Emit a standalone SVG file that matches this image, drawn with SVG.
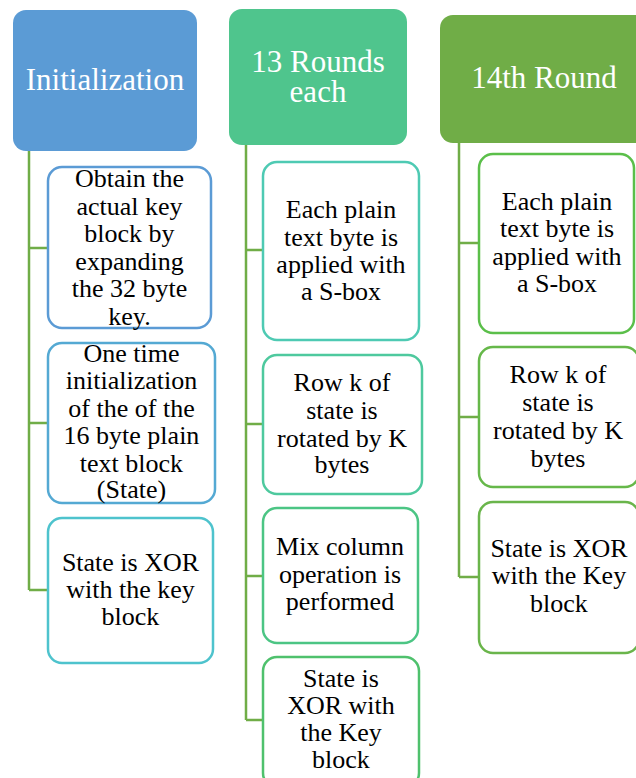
<svg xmlns="http://www.w3.org/2000/svg" width="636" height="778" viewBox="0 0 636 778">
<style>
.hd{font-family:'Liberation Serif','Times New Roman',serif;font-size:31px;fill:#ffffff;text-anchor:middle}
.tx{font-family:'Liberation Serif','Times New Roman',serif;font-size:26px;fill:#000000;text-anchor:middle}
.bx{fill:#ffffff;stroke-width:2.5}
.ln{fill:none;stroke:#70ad47;stroke-width:2.5}
</style>
<rect width="636" height="778" fill="#ffffff"/>
<g id="connectors">
<path class="ln" d="M29,151 V590 M29,248 H48 M29,423 H48 M29,590 H48"/>
<path class="ln" d="M246,145 V720 M246,250 H263 M246,424 H263 M246,576 H263 M246,720 H263"/>
<path class="ln" d="M459,143 V577 M459,243 H479 M459,417 H479 M459,577 H479"/>
</g>
<g id="h1"><rect x="13" y="10" width="184" height="141" rx="13" fill="#5b9bd5"/><text class="hd" x="105" y="90">Initialization</text></g>
<g id="h2"><rect x="229" y="9" width="178" height="136" rx="13" fill="#4fc58d"/><text class="hd"><tspan x="318" y="72">13 Rounds</tspan><tspan x="318" y="102">each</tspan></text></g>
<g id="h3"><rect x="440" y="15" width="210" height="128" rx="13" fill="#70ad47"/><text class="hd" x="544" y="88">14th Round</text></g>
<g id="c1b1"><rect class="bx" x="48" y="167" width="163" height="161" rx="14" stroke="#5b9bd5"/><text class="tx"><tspan x="129.5" y="187">Obtain the</tspan><tspan x="129.5" y="214.6">actual key</tspan><tspan x="129.5" y="242.2">block by</tspan><tspan x="129.5" y="269.8">expanding</tspan><tspan x="129.5" y="297.4">the 32 byte</tspan><tspan x="129.5" y="325">key.</tspan></text></g>
<g id="c1b2"><rect class="bx" x="48" y="343" width="167" height="160" rx="14" stroke="#54a9d3"/><text class="tx"><tspan x="131.5" y="362">One time</tspan><tspan x="131.5" y="389">initialization</tspan><tspan x="131.5" y="417">of the of the</tspan><tspan x="131.5" y="444">16 byte plain</tspan><tspan x="131.5" y="472">text block</tspan><tspan x="131.5" y="498">(State)</tspan></text></g>
<g id="c1b3"><rect class="bx" x="48" y="518" width="165" height="145" rx="14" stroke="#4ec3cd"/><text class="tx"><tspan x="130.5" y="571">State is XOR</tspan><tspan x="130.5" y="598">with the key</tspan><tspan x="130.5" y="625">block</tspan></text></g>
<g id="c2b1"><rect class="bx" x="263" y="162" width="156" height="178" rx="14" stroke="#4ecab3"/><text class="tx"><tspan x="341" y="218">Each plain</tspan><tspan x="341" y="246">text byte is</tspan><tspan x="341" y="273">applied with</tspan><tspan x="341" y="300">a S-box</tspan></text></g>
<g id="c2b2"><rect class="bx" x="263" y="355" width="159" height="139" rx="14" stroke="#4ec99e"/><text class="tx"><tspan x="342" y="391">Row k of</tspan><tspan x="342" y="419">state is</tspan><tspan x="342" y="447">rotated by K</tspan><tspan x="342" y="473">bytes</tspan></text></g>
<g id="c2b3"><rect class="bx" x="263" y="508" width="155" height="135" rx="14" stroke="#4cc584"/><text class="tx"><tspan x="340" y="555">Mix column</tspan><tspan x="340" y="583">operation is</tspan><tspan x="340" y="610">performed</tspan></text></g>
<g id="c2b4"><rect class="bx" x="263" y="657" width="156" height="130" rx="14" stroke="#4fc16d"/><text class="tx"><tspan x="341" y="687">State is</tspan><tspan x="341" y="714">XOR with</tspan><tspan x="341" y="741">the Key</tspan><tspan x="341" y="768">block</tspan></text></g>
<g id="c3b1"><rect class="bx" x="479" y="154" width="155" height="179" rx="14" stroke="#5bbf4a"/><text class="tx"><tspan x="557" y="210">Each plain</tspan><tspan x="557" y="237">text byte is</tspan><tspan x="557" y="265">applied with</tspan><tspan x="557" y="292">a S-box</tspan></text></g>
<g id="c3b2"><rect class="bx" x="479" y="347" width="160" height="140" rx="14" stroke="#66b84a"/><text class="tx"><tspan x="558" y="383">Row k of</tspan><tspan x="558" y="411">state is</tspan><tspan x="558" y="439">rotated by K</tspan><tspan x="558" y="467">bytes</tspan></text></g>
<g id="c3b3"><rect class="bx" x="479" y="502" width="160" height="151" rx="14" stroke="#6ab54b"/><text class="tx"><tspan x="559" y="557">State is XOR</tspan><tspan x="559" y="584">with the Key</tspan><tspan x="559" y="612">block</tspan></text></g>
</svg>
